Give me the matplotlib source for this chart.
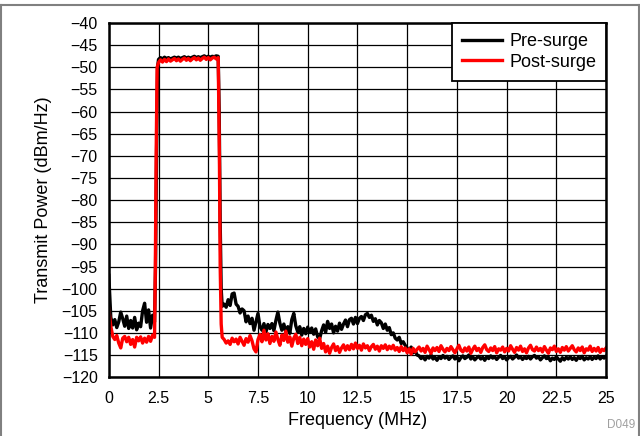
import numpy as np
import matplotlib
matplotlib.use('Agg')
import matplotlib.pyplot as plt
from matplotlib.lines import Line2D

plt.rcParams['font.family'] = ['Liberation Sans', 'DejaVu Sans']

# Pre-surge (black) trace
pre_low = [-97.0, -106.5, -108.2, -107.0, -108.8, -107.5, -105.3, -106.8, -108.5, -106.2,
           -109.0, -107.2, -108.9, -106.5, -109.3, -107.8, -108.6, -105.0, -103.3, -107.6,
           -104.8, -108.9, -106.0, -107.5]
pre_rise_f = [2.35, 2.40, 2.45]
pre_rise = [-95.0, -70.0, -50.0]
pre_top = [-48.2, -47.8, -48.1, -47.7, -48.0, -47.8, -48.1, -47.9, -47.7, -47.9,
           -47.7, -48.0, -47.8, -47.6, -47.9, -47.7, -47.9, -47.7, -47.5, -47.8,
           -47.6, -47.8, -47.6, -47.4, -47.7, -47.5, -47.7, -47.5, -47.6, -47.4, -47.5]
pre_fall_f = [5.55, 5.60, 5.65, 5.70]
pre_fall = [-60.0, -85.0, -100.0, -104.0]
pre_high = [-103.5, -104.2, -102.5, -103.8, -101.2, -101.0, -103.5, -104.0, -105.5, -104.6,
            -105.0, -107.5, -106.2, -107.9, -106.7, -109.4, -107.5, -105.6, -108.6, -109.4,
            -107.9, -109.8, -108.1, -109.0, -107.9, -109.5, -107.2, -105.3, -107.8, -109.4,
            -108.0, -109.8, -108.6, -110.1, -107.0, -105.6, -108.4, -109.8, -108.6, -110.5,
            -109.0, -110.2, -108.7, -109.9, -108.9, -110.3, -109.1, -110.9, -111.3, -109.5,
            -108.2, -109.9, -107.4, -109.0, -108.0, -110.0, -108.5, -109.6, -107.8, -109.2,
            -108.0, -107.1, -108.6, -107.0, -106.7, -108.0, -106.5, -107.9, -106.7, -106.3,
            -107.2, -105.9, -105.6, -106.5, -106.0, -107.4, -106.8, -108.2, -107.2, -107.7,
            -109.0, -108.0, -109.4, -108.8, -110.4, -110.0, -111.2, -111.6, -111.0, -112.4,
            -112.0, -112.8, -113.4, -113.9, -113.2, -114.5, -114.0, -115.0,
            -115.2, -115.8, -115.4, -116.1, -115.3, -115.7, -115.0, -115.9, -115.5, -116.2,
            -115.4, -115.8, -115.1, -115.7, -115.3, -116.0, -115.5, -115.2, -115.9, -115.4,
            -116.3, -115.6, -115.2, -115.8, -115.5, -115.0, -115.9, -115.4, -116.1, -115.6,
            -115.3, -115.9, -115.5, -116.2, -115.4, -115.8, -115.2, -115.7, -115.4, -116.0,
            -115.5, -115.1, -115.8, -115.4, -116.1, -115.6, -115.3, -115.9, -115.5, -115.0,
            -115.7, -115.4, -116.0, -115.5, -115.8, -115.3, -115.9, -115.4, -115.1, -115.7,
            -115.4, -116.1, -115.6, -115.2, -115.8, -115.5, -116.3, -115.7, -116.0, -115.4,
            -115.9, -116.4, -115.6, -116.1, -115.5, -115.9, -115.4, -116.0, -115.6, -116.2,
            -115.5, -115.8, -115.3, -116.1, -115.6, -115.9, -115.4, -116.0, -115.5, -115.8,
            -115.2, -115.9, -115.4, -115.7, -115.3]

# Post-surge (red) trace
post_low = [-104.5, -108.5, -110.8, -111.5, -110.6, -112.3, -113.4, -111.2, -110.8, -112.0,
            -111.0, -112.6, -111.5, -113.2, -111.0, -111.8, -110.9, -112.3, -111.2, -112.1,
            -110.8, -111.9, -110.5, -111.0]
post_rise_f = [2.34, 2.38, 2.43]
post_rise = [-95.0, -70.0, -50.0]
post_top = [-48.9, -48.3, -48.8, -48.2, -48.7, -48.1, -48.6, -48.3, -48.0, -48.5,
            -48.1, -48.6, -48.2, -47.9, -48.4, -48.0, -48.5, -48.1, -47.8, -48.3,
            -47.9, -48.4, -48.0, -47.7, -48.2, -47.8, -48.3, -47.9, -47.7, -48.1, -47.8]
post_fall_f = [5.56, 5.60, 5.65, 5.70]
post_fall = [-70.0, -95.0, -108.0, -111.0]
post_high = [-111.5, -112.3, -111.8, -112.6, -111.2, -112.0, -111.4, -112.5, -111.0, -111.9,
             -112.8, -111.3, -112.1, -110.6, -111.8, -113.6, -114.3, -111.5, -110.4, -112.0,
             -109.4, -111.6, -110.2, -112.4, -110.8, -111.9, -109.8, -111.5, -112.8, -110.5,
             -111.7, -109.6, -112.1, -110.9, -113.0, -111.2, -110.3, -112.4, -111.0, -112.9,
             -111.4, -112.6, -111.3, -113.2, -112.0, -113.7, -111.6, -112.9, -111.2, -113.5,
             -112.4, -114.3, -113.0, -114.6, -113.3, -112.5, -114.0, -113.1, -114.4, -113.4,
             -112.7, -113.9, -112.9, -113.8, -112.6, -113.6, -112.3, -113.5, -112.8, -113.9,
             -112.5, -113.4, -112.9, -114.0, -113.1, -112.6, -113.7, -113.0, -114.1, -112.9,
             -113.5, -112.7, -113.8, -113.0, -113.6, -112.8, -113.9, -113.3, -114.2, -113.1,
             -114.0, -113.4, -114.5, -113.6, -114.8, -113.5, -114.3, -113.7,
             -113.2, -114.1, -113.5, -114.4, -113.0, -113.8, -114.6, -113.4, -114.0, -113.3,
             -114.2, -112.9, -113.7, -114.3, -113.5, -114.0, -113.1, -113.8, -114.5, -113.6,
             -112.8, -113.9, -114.3, -113.4, -114.1, -113.2, -114.6, -113.7, -113.0, -114.0,
             -113.5, -114.4, -113.3, -112.7, -113.8, -114.2, -113.4, -114.0, -113.1, -114.5,
             -113.6, -113.9, -113.2, -114.3, -113.5, -114.1, -112.9, -113.7, -114.4, -113.3,
             -113.9, -113.0, -114.2, -113.6, -114.5, -113.4, -112.8, -113.8, -114.1, -113.2,
             -114.0, -113.5, -114.3, -113.1, -113.9, -114.6, -113.4, -113.8, -113.0, -114.2,
             -113.6, -114.4, -113.3, -113.9, -113.1, -114.1, -113.5, -112.9, -113.8, -114.3,
             -113.4, -114.0, -113.2, -114.5, -113.6, -113.9, -113.0, -114.2, -113.5, -114.1,
             -113.3, -114.4, -113.7, -114.0, -113.4]

x_ticks = [0, 2.5, 5, 7.5, 10, 12.5, 15, 17.5, 20, 22.5, 25]
x_labels = ['0', '2.5', '5', '7.5', '10', '12.5', '15', '17.5', '20', '22.5', '25']
y_ticks = list(range(-120, -35, 5))


def build(low, rise_f, rise, top, fall_f, fall, high):
    # sample grid: 0.1 MHz steps on the flat parts, explicit points on the edges
    f_low = np.round(0.1 * np.arange(len(low)), 2)
    f_top = np.round(2.5 + 0.1 * np.arange(len(top)), 2)
    f_high = np.round(5.8 + 0.1 * np.arange(len(high)), 2)
    f = np.concatenate([f_low, rise_f, f_top, fall_f, f_high])
    v = np.concatenate([low, rise, top, fall, high])
    return f, v


f_pre, v_pre = build(pre_low, pre_rise_f, pre_rise, pre_top, pre_fall_f, pre_fall, pre_high)
f_post, v_post = build(post_low, post_rise_f, post_rise, post_top, post_fall_f, post_fall, post_high)

fig = plt.figure(figsize=(6.4, 4.36), dpi=100)
ax = fig.add_axes([0.170, 0.135, 0.777, 0.812])

ax.plot(f_pre, v_pre, color='black', lw=2.4, label='Pre-surge')
ax.plot(f_post, v_post, color='#ff0000', lw=2.4, label='Post-surge')

ax.set_xlim(0, 25)
ax.set_ylim(-120, -40)
ax.set_xticks(x_ticks)
ax.set_xticklabels(x_labels)
ax.set_yticks(y_ticks)
ax.grid(True, color='black', lw=0.9)
ax.set_axisbelow(True)
ax.tick_params(length=0, labelsize=11.5, pad=8)
ax.tick_params(axis='x', pad=10)
for s in ax.spines.values():
    s.set_linewidth(1.8)

ax.set_xlabel('Frequency (MHz)', fontsize=13, labelpad=4)
ax.set_ylabel('Transmit Power (dBm/Hz)', fontsize=13, labelpad=7)

leg = ax.legend(loc='upper right', fontsize=13, frameon=True, fancybox=False,
                borderaxespad=0, handlelength=2.2, handletextpad=0.4,
                labelspacing=0.2, borderpad=0.55)
leg.get_frame().set_edgecolor('black')
leg.get_frame().set_linewidth(1.3)
leg.get_frame().set_alpha(1)

fig.text(0.992, 0.012, 'D049', color='#a0a0a0', fontsize=8.5, ha='right', va='bottom')

# thin grey frame round the figure
top = 1 - 5 / 436
for xs, ys in [([0.002, 0.002], [0, top]), ([0.002, 0.998], [top, top]), ([0.998, 0.998], [0, top])]:
    fig.add_artist(Line2D(xs, ys, color='#808080', lw=1.5, transform=fig.transFigure))

fig.savefig('out.png', dpi=100)
